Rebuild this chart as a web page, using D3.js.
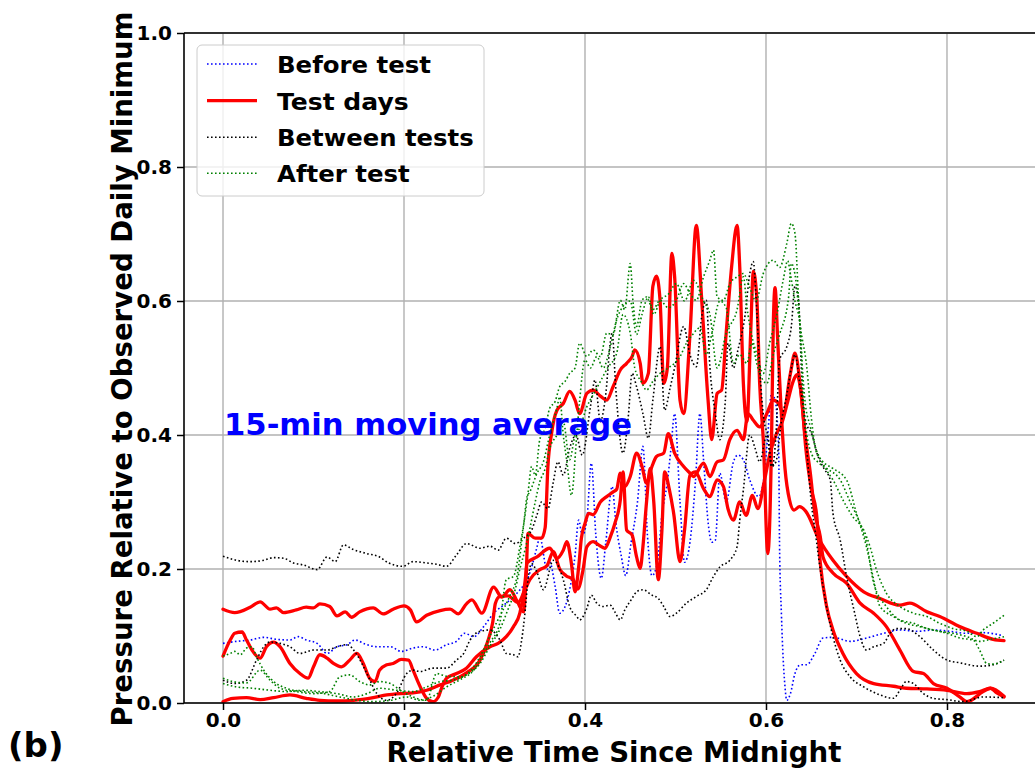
<!DOCTYPE html>
<html>
<head>
<meta charset="utf-8">
<script src="https://cdn.jsdelivr.net/npm/d3@7"></script>
<style>
  body { margin: 0; background: #ffffff; }
  svg { display: block; }
  text { font-family: "DejaVu Sans", "Liberation Sans", sans-serif; font-weight: bold; }
</style>
</head>
<body>
<svg id="chart" width="1035" height="770"></svg>
<script>
// Axis ticks
const xTicks = [0, 0.2, 0.4, 0.6, 0.8];
const yTicks = [0, 0.2, 0.4, 0.6, 0.8, 1.0];

// Pressure relative to daily minimum, 15-min moving average: [relative time, pressure]
const beforeTest1 = [[0.000,0.089],[0.015,0.092],[0.030,0.094],[0.045,0.098],[0.059,0.095],[0.074,0.094],[0.083,0.099],[0.092,0.094],[0.104,0.089],[0.115,0.074],[0.126,0.084],[0.137,0.087],[0.146,0.094],[0.157,0.088],[0.170,0.084],[0.185,0.084],[0.197,0.077],[0.210,0.082],[0.221,0.084],[0.234,0.079],[0.247,0.087],[0.258,0.092],[0.267,0.104],[0.277,0.099],[0.288,0.114],[0.299,0.134],[0.313,0.149],[0.325,0.164],[0.339,0.194],[0.347,0.233],[0.350,0.248],[0.358,0.199],[0.361,0.210],[0.367,0.174],[0.372,0.134],[0.378,0.144],[0.383,0.169],[0.389,0.220],[0.393,0.273],[0.397,0.250],[0.402,0.273],[0.407,0.358],[0.412,0.250],[0.418,0.186],[0.423,0.240],[0.430,0.323],[0.434,0.270],[0.440,0.220],[0.445,0.190],[0.451,0.240],[0.458,0.300],[0.464,0.383],[0.469,0.250],[0.474,0.190],[0.480,0.210],[0.485,0.280],[0.491,0.330],[0.495,0.380],[0.499,0.432],[0.505,0.300],[0.510,0.210],[0.516,0.240],[0.522,0.330],[0.527,0.432],[0.531,0.363],[0.536,0.270],[0.540,0.240],[0.544,0.243],[0.549,0.343],[0.556,0.300],[0.564,0.360],[0.569,0.370],[0.575,0.363],[0.582,0.333],[0.592,0.308],[0.597,0.330],[0.602,0.400],[0.606,0.462],[0.610,0.452],[0.614,0.378],[0.615,0.233],[0.617,0.134],[0.621,0.024],[0.623,0.004],[0.627,0.014],[0.632,0.044],[0.638,0.057],[0.645,0.057],[0.654,0.074],[0.663,0.097],[0.674,0.098],[0.693,0.092],[0.711,0.097],[0.730,0.104],[0.748,0.109],[0.767,0.107],[0.785,0.109],[0.803,0.107],[0.822,0.104],[0.840,0.105],[0.860,0.101]];

const testDay1 = [[0.000,0.140],[0.013,0.135],[0.030,0.143],[0.041,0.151],[0.052,0.140],[0.059,0.142],[0.067,0.135],[0.081,0.139],[0.092,0.143],[0.100,0.142],[0.107,0.148],[0.118,0.144],[0.126,0.130],[0.135,0.136],[0.142,0.128],[0.151,0.136],[0.166,0.142],[0.177,0.133],[0.188,0.140],[0.200,0.145],[0.207,0.139],[0.214,0.121],[0.225,0.131],[0.240,0.138],[0.251,0.140],[0.260,0.133],[0.269,0.148],[0.275,0.154],[0.286,0.134],[0.299,0.173],[0.308,0.158],[0.317,0.169],[0.325,0.152],[0.332,0.136],[0.335,0.190],[0.337,0.253],[0.345,0.246],[0.352,0.246],[0.356,0.262],[0.359,0.353],[0.363,0.402],[0.369,0.437],[0.376,0.447],[0.383,0.465],[0.389,0.452],[0.394,0.432],[0.402,0.462],[0.409,0.467],[0.417,0.458],[0.424,0.452],[0.431,0.472],[0.439,0.497],[0.446,0.507],[0.452,0.517],[0.455,0.527],[0.461,0.507],[0.464,0.477],[0.470,0.492],[0.475,0.622],[0.479,0.637],[0.483,0.600],[0.487,0.477],[0.491,0.500],[0.496,0.671],[0.499,0.637],[0.505,0.452],[0.509,0.432],[0.516,0.550],[0.523,0.713],[0.529,0.601],[0.536,0.452],[0.540,0.393],[0.546,0.462],[0.551,0.467],[0.556,0.552],[0.562,0.651],[0.568,0.713],[0.571,0.651],[0.575,0.477],[0.579,0.420],[0.583,0.550],[0.586,0.644],[0.590,0.601],[0.593,0.477],[0.597,0.393],[0.602,0.223],[0.606,0.380],[0.608,0.560],[0.610,0.620],[0.613,0.540],[0.617,0.430],[0.621,0.350],[0.626,0.303],[0.631,0.288],[0.637,0.293],[0.644,0.286],[0.658,0.246],[0.674,0.213],[0.689,0.189],[0.708,0.166],[0.726,0.156],[0.748,0.146],[0.759,0.149],[0.778,0.136],[0.792,0.129],[0.814,0.114],[0.833,0.104],[0.851,0.095],[0.863,0.093]];

const testDay2 = [[0.000,0.070],[0.008,0.094],[0.013,0.104],[0.021,0.106],[0.026,0.094],[0.032,0.079],[0.041,0.067],[0.048,0.084],[0.056,0.091],[0.063,0.084],[0.074,0.059],[0.085,0.044],[0.094,0.037],[0.100,0.054],[0.107,0.072],[0.115,0.067],[0.122,0.059],[0.131,0.054],[0.140,0.064],[0.148,0.074],[0.155,0.059],[0.162,0.037],[0.168,0.032],[0.173,0.049],[0.181,0.057],[0.188,0.059],[0.197,0.065],[0.205,0.064],[0.210,0.049],[0.218,0.024],[0.225,0.007],[0.232,0.002],[0.238,0.009],[0.242,0.024],[0.247,0.037],[0.258,0.044],[0.269,0.052],[0.280,0.069],[0.295,0.084],[0.304,0.089],[0.313,0.099],[0.321,0.114],[0.328,0.134],[0.334,0.184],[0.336,0.209],[0.347,0.218],[0.361,0.231],[0.369,0.216],[0.376,0.228],[0.380,0.241],[0.385,0.208],[0.389,0.166],[0.393,0.203],[0.396,0.246],[0.400,0.268],[0.404,0.283],[0.409,0.281],[0.417,0.300],[0.424,0.308],[0.431,0.315],[0.435,0.319],[0.439,0.343],[0.444,0.323],[0.450,0.338],[0.457,0.373],[0.463,0.353],[0.468,0.328],[0.474,0.353],[0.479,0.368],[0.487,0.373],[0.492,0.402],[0.499,0.373],[0.509,0.353],[0.516,0.343],[0.520,0.338],[0.531,0.358],[0.538,0.338],[0.546,0.360],[0.553,0.363],[0.560,0.393],[0.568,0.407],[0.575,0.393],[0.580,0.432],[0.586,0.422],[0.593,0.412],[0.601,0.432],[0.608,0.452],[0.614,0.447],[0.619,0.432],[0.627,0.492],[0.632,0.522],[0.638,0.472],[0.643,0.402],[0.649,0.343],[0.654,0.283],[0.660,0.248],[0.663,0.218],[0.674,0.194],[0.689,0.179],[0.704,0.149],[0.719,0.134],[0.733,0.114],[0.748,0.079],[0.763,0.047],[0.774,0.044],[0.785,0.029],[0.800,0.022],[0.814,0.009],[0.822,0.002],[0.840,0.017],[0.848,0.022],[0.855,0.015],[0.863,0.009]];

const testDay3 = [[0.000,0.002],[0.011,0.007],[0.026,0.008],[0.041,0.005],[0.056,0.008],[0.074,0.012],[0.092,0.007],[0.107,0.004],[0.126,0.003],[0.144,0.004],[0.166,0.008],[0.181,0.012],[0.196,0.014],[0.210,0.015],[0.225,0.019],[0.240,0.027],[0.254,0.034],[0.269,0.045],[0.284,0.064],[0.292,0.090],[0.298,0.120],[0.301,0.149],[0.306,0.159],[0.315,0.160],[0.326,0.150],[0.334,0.170],[0.339,0.184],[0.350,0.199],[0.358,0.205],[0.365,0.226],[0.372,0.200],[0.379,0.190],[0.387,0.184],[0.392,0.170],[0.398,0.200],[0.402,0.233],[0.409,0.241],[0.415,0.236],[0.422,0.231],[0.428,0.248],[0.433,0.268],[0.439,0.303],[0.442,0.345],[0.446,0.258],[0.452,0.251],[0.457,0.218],[0.461,0.201],[0.464,0.233],[0.468,0.300],[0.472,0.350],[0.476,0.300],[0.481,0.184],[0.485,0.258],[0.488,0.345],[0.493,0.320],[0.498,0.283],[0.505,0.211],[0.510,0.258],[0.516,0.340],[0.522,0.345],[0.531,0.320],[0.538,0.308],[0.546,0.333],[0.553,0.323],[0.558,0.290],[0.564,0.273],[0.571,0.300],[0.578,0.280],[0.585,0.310],[0.591,0.290],[0.598,0.330],[0.604,0.370],[0.611,0.400],[0.618,0.420],[0.624,0.450],[0.630,0.480],[0.634,0.490],[0.639,0.460],[0.644,0.380],[0.650,0.320],[0.656,0.280],[0.660,0.209],[0.667,0.144],[0.674,0.109],[0.685,0.074],[0.700,0.044],[0.719,0.029],[0.741,0.025],[0.755,0.022],[0.778,0.021],[0.800,0.019],[0.822,0.014],[0.836,0.017],[0.848,0.022],[0.863,0.010]];

const betweenTests1 = [[0.000,0.219],[0.015,0.213],[0.030,0.211],[0.045,0.213],[0.056,0.217],[0.067,0.216],[0.078,0.209],[0.089,0.206],[0.104,0.199],[0.115,0.218],[0.124,0.211],[0.133,0.236],[0.144,0.229],[0.159,0.223],[0.173,0.218],[0.183,0.209],[0.199,0.204],[0.210,0.211],[0.225,0.209],[0.236,0.207],[0.247,0.204],[0.258,0.221],[0.269,0.238],[0.284,0.231],[0.295,0.234],[0.304,0.228],[0.313,0.246],[0.323,0.238],[0.332,0.246],[0.341,0.258],[0.347,0.281],[0.352,0.300],[0.359,0.290],[0.365,0.330],[0.370,0.360],[0.376,0.340],[0.383,0.380],[0.390,0.400],[0.397,0.370],[0.406,0.442],[0.411,0.482],[0.417,0.420],[0.422,0.450],[0.430,0.552],[0.434,0.470],[0.442,0.373],[0.448,0.430],[0.452,0.492],[0.457,0.472],[0.464,0.432],[0.470,0.395],[0.475,0.452],[0.483,0.532],[0.488,0.437],[0.494,0.470],[0.499,0.500],[0.509,0.562],[0.516,0.520],[0.523,0.502],[0.529,0.577],[0.534,0.601],[0.538,0.502],[0.544,0.432],[0.549,0.393],[0.555,0.450],[0.558,0.537],[0.564,0.500],[0.569,0.527],[0.577,0.580],[0.582,0.640],[0.586,0.659],[0.589,0.606],[0.593,0.500],[0.598,0.420],[0.602,0.400],[0.607,0.353],[0.611,0.400],[0.615,0.512],[0.623,0.532],[0.628,0.562],[0.632,0.622],[0.636,0.601],[0.639,0.502],[0.645,0.380],[0.650,0.300],[0.655,0.250],[0.658,0.218],[0.663,0.174],[0.669,0.129],[0.674,0.099],[0.682,0.064],[0.693,0.039],[0.708,0.024],[0.726,0.012],[0.741,0.007],[0.748,0.019],[0.755,0.032],[0.763,0.029],[0.774,0.014],[0.785,0.007],[0.800,0.005],[0.818,0.002],[0.840,0.009],[0.863,0.008]];

const betweenTests2 = [[0.000,0.034],[0.013,0.029],[0.026,0.034],[0.037,0.064],[0.045,0.084],[0.052,0.091],[0.063,0.089],[0.074,0.084],[0.085,0.074],[0.100,0.079],[0.115,0.079],[0.126,0.084],[0.137,0.087],[0.148,0.072],[0.159,0.044],[0.170,0.014],[0.181,0.004],[0.192,0.015],[0.203,0.044],[0.210,0.049],[0.218,0.047],[0.232,0.052],[0.247,0.052],[0.258,0.064],[0.266,0.074],[0.273,0.094],[0.282,0.106],[0.295,0.109],[0.306,0.094],[0.313,0.074],[0.321,0.072],[0.326,0.069],[0.330,0.094],[0.334,0.139],[0.337,0.184],[0.341,0.208],[0.347,0.195],[0.354,0.169],[0.365,0.213],[0.376,0.184],[0.383,0.144],[0.391,0.129],[0.394,0.124],[0.402,0.141],[0.407,0.161],[0.413,0.149],[0.420,0.144],[0.428,0.146],[0.433,0.136],[0.439,0.124],[0.444,0.139],[0.452,0.156],[0.457,0.166],[0.464,0.169],[0.474,0.161],[0.481,0.156],[0.487,0.144],[0.494,0.129],[0.501,0.134],[0.512,0.149],[0.523,0.159],[0.534,0.169],[0.542,0.189],[0.549,0.203],[0.560,0.213],[0.568,0.233],[0.571,0.273],[0.575,0.318],[0.582,0.400],[0.588,0.380],[0.593,0.360],[0.601,0.400],[0.606,0.353],[0.611,0.360],[0.617,0.420],[0.623,0.460],[0.628,0.500],[0.632,0.520],[0.638,0.470],[0.644,0.420],[0.651,0.400],[0.657,0.370],[0.664,0.350],[0.671,0.333],[0.674,0.283],[0.682,0.243],[0.689,0.189],[0.698,0.134],[0.704,0.099],[0.711,0.079],[0.719,0.084],[0.730,0.089],[0.737,0.104],[0.744,0.111],[0.755,0.111],[0.770,0.099],[0.785,0.079],[0.800,0.064],[0.814,0.060],[0.836,0.055],[0.851,0.057],[0.863,0.064]];

const afterTest1 = [[0.000,0.070],[0.008,0.074],[0.013,0.077],[0.019,0.072],[0.026,0.082],[0.032,0.084],[0.037,0.069],[0.045,0.049],[0.056,0.032],[0.070,0.022],[0.089,0.017],[0.107,0.015],[0.129,0.009],[0.148,0.004],[0.166,0.002],[0.185,0.004],[0.203,0.009],[0.218,0.004],[0.232,0.010],[0.247,0.024],[0.262,0.035],[0.277,0.049],[0.284,0.064],[0.295,0.090],[0.306,0.120],[0.313,0.184],[0.321,0.189],[0.328,0.233],[0.334,0.283],[0.337,0.313],[0.341,0.353],[0.345,0.340],[0.350,0.393],[0.356,0.410],[0.361,0.440],[0.367,0.450],[0.372,0.472],[0.378,0.480],[0.383,0.492],[0.389,0.500],[0.394,0.537],[0.402,0.517],[0.409,0.527],[0.417,0.517],[0.424,0.552],[0.431,0.550],[0.439,0.601],[0.444,0.587],[0.450,0.656],[0.453,0.600],[0.457,0.562],[0.463,0.601],[0.468,0.606],[0.475,0.587],[0.483,0.601],[0.492,0.590],[0.501,0.601],[0.509,0.626],[0.516,0.611],[0.523,0.601],[0.531,0.636],[0.538,0.661],[0.542,0.676],[0.546,0.606],[0.553,0.601],[0.560,0.626],[0.568,0.636],[0.575,0.641],[0.582,0.620],[0.589,0.600],[0.597,0.641],[0.608,0.661],[0.615,0.650],[0.623,0.686],[0.628,0.716],[0.632,0.701],[0.636,0.601],[0.639,0.527],[0.643,0.452],[0.649,0.412],[0.655,0.380],[0.662,0.360],[0.668,0.345],[0.674,0.333],[0.685,0.303],[0.696,0.278],[0.708,0.258],[0.715,0.233],[0.722,0.199],[0.733,0.164],[0.748,0.144],[0.763,0.134],[0.778,0.129],[0.792,0.119],[0.807,0.111],[0.822,0.107],[0.833,0.099],[0.840,0.109],[0.851,0.119],[0.863,0.131]];

const afterTest2 = [[0.000,0.037],[0.011,0.032],[0.026,0.030],[0.041,0.049],[0.052,0.034],[0.063,0.022],[0.081,0.017],[0.100,0.014],[0.118,0.017],[0.129,0.039],[0.140,0.042],[0.151,0.032],[0.162,0.027],[0.173,0.032],[0.185,0.029],[0.196,0.019],[0.210,0.009],[0.225,0.004],[0.236,0.044],[0.247,0.040],[0.262,0.039],[0.277,0.054],[0.284,0.069],[0.295,0.100],[0.306,0.130],[0.317,0.160],[0.325,0.190],[0.332,0.263],[0.336,0.308],[0.339,0.315],[0.347,0.343],[0.354,0.360],[0.361,0.400],[0.369,0.440],[0.372,0.457],[0.376,0.400],[0.380,0.360],[0.385,0.310],[0.391,0.402],[0.394,0.450],[0.400,0.512],[0.406,0.500],[0.413,0.517],[0.420,0.500],[0.428,0.532],[0.435,0.572],[0.442,0.592],[0.450,0.600],[0.457,0.550],[0.463,0.580],[0.470,0.606],[0.476,0.580],[0.483,0.601],[0.492,0.610],[0.501,0.626],[0.510,0.600],[0.520,0.631],[0.531,0.600],[0.538,0.580],[0.546,0.500],[0.556,0.552],[0.568,0.587],[0.575,0.636],[0.579,0.590],[0.584,0.550],[0.590,0.520],[0.597,0.492],[0.604,0.537],[0.612,0.580],[0.619,0.631],[0.624,0.660],[0.627,0.640],[0.632,0.600],[0.638,0.562],[0.641,0.452],[0.645,0.402],[0.651,0.370],[0.657,0.360],[0.667,0.350],[0.682,0.333],[0.693,0.300],[0.704,0.268],[0.711,0.240],[0.719,0.179],[0.733,0.144],[0.748,0.124],[0.763,0.119],[0.778,0.111],[0.792,0.107],[0.807,0.104],[0.822,0.099],[0.836,0.092],[0.848,0.095],[0.863,0.099]];

const afterTest3 = [[0.000,0.029],[0.015,0.024],[0.033,0.022],[0.052,0.019],[0.070,0.017],[0.089,0.019],[0.107,0.017],[0.126,0.014],[0.144,0.009],[0.159,0.014],[0.173,0.022],[0.192,0.019],[0.210,0.017],[0.225,0.024],[0.240,0.032],[0.254,0.034],[0.269,0.042],[0.284,0.059],[0.295,0.085],[0.306,0.110],[0.315,0.140],[0.323,0.170],[0.328,0.200],[0.334,0.230],[0.339,0.260],[0.345,0.300],[0.350,0.330],[0.356,0.350],[0.361,0.380],[0.369,0.400],[0.376,0.420],[0.383,0.363],[0.389,0.400],[0.394,0.410],[0.402,0.442],[0.409,0.460],[0.417,0.480],[0.425,0.500],[0.435,0.522],[0.442,0.580],[0.450,0.552],[0.455,0.500],[0.462,0.480],[0.468,0.467],[0.475,0.480],[0.483,0.492],[0.492,0.500],[0.505,0.517],[0.512,0.537],[0.519,0.550],[0.527,0.560],[0.534,0.520],[0.540,0.550],[0.549,0.600],[0.556,0.590],[0.564,0.507],[0.571,0.520],[0.579,0.507],[0.584,0.537],[0.591,0.500],[0.601,0.477],[0.608,0.520],[0.615,0.550],[0.625,0.606],[0.628,0.656],[0.632,0.640],[0.638,0.562],[0.645,0.502],[0.650,0.427],[0.656,0.373],[0.663,0.360],[0.674,0.350],[0.689,0.333],[0.700,0.283],[0.711,0.233],[0.718,0.190],[0.726,0.144],[0.741,0.129],[0.755,0.119],[0.770,0.114],[0.785,0.109],[0.800,0.104],[0.814,0.097],[0.829,0.094],[0.836,0.079],[0.844,0.059],[0.851,0.058],[0.863,0.064]];

// Groups in plotting / legend order
const groups = [
  { label: "Before test",   color: "#0000ff", dotted: true,  runs: [beforeTest1] },
  { label: "Test days",     color: "#ff0000", dotted: false, runs: [testDay1, testDay2, testDay3] },
  { label: "Between tests", color: "#000000", dotted: true,  runs: [betweenTests1, betweenTests2] },
  { label: "After test",    color: "#008000", dotted: true,  runs: [afterTest1, afterTest2, afterTest3] }
];

const svg = d3.select("#chart");
const plot = { left: 184, top: 33, right: 1045, bottom: 703 };

const x = d3.scaleLinear().domain([-0.0431, 0.9083]).range([plot.left, plot.right]);
const y = d3.scaleLinear().domain([0, 1]).range([plot.bottom, plot.top]);

svg.append("rect").attr("width", 1035).attr("height", 770).attr("fill", "#ffffff");

svg.append("defs").append("clipPath").attr("id", "plotClip")
  .append("rect")
  .attr("x", plot.left).attr("y", plot.top)
  .attr("width", plot.right - plot.left).attr("height", plot.bottom - plot.top);

// Grid
const grid = svg.append("g").attr("stroke", "#b0b0b0").attr("stroke-width", 1.4);
grid.selectAll("line.gx").data(xTicks).join("line")
  .attr("x1", d => x(d)).attr("x2", d => x(d))
  .attr("y1", plot.top).attr("y2", plot.bottom);
grid.selectAll("line.gy").data(yTicks).join("line")
  .attr("x1", plot.left).attr("x2", plot.right)
  .attr("y1", d => y(d)).attr("y2", d => y(d));

// Series
const line = d3.line()
  .x(d => x(d[0]))
  .y(d => y(d[1]))
  .curve(d3.curveMonotoneX);

const linesG = svg.append("g").attr("clip-path", "url(#plotClip)");
groups.forEach(g => {
  g.runs.forEach(run => {
    linesG.append("path")
      .datum(run)
      .attr("d", line)
      .attr("fill", "none")
      .attr("stroke", g.color)
      .attr("stroke-width", g.dotted ? 1.6 : 3.3)
      .attr("stroke-dasharray", g.dotted ? "1.6,2.4" : null)
      .attr("stroke-linejoin", "round")
      .attr("stroke-linecap", g.dotted ? "butt" : "round");
  });
});

// Axes
const fmt = d3.format(".1f");
const xAxis = svg.append("g")
  .attr("transform", `translate(0,${plot.bottom})`)
  .call(d3.axisBottom(x).tickValues(xTicks).tickFormat(fmt).tickSize(7).tickPadding(3));
const yAxis = svg.append("g")
  .attr("transform", `translate(${plot.left},0)`)
  .call(d3.axisLeft(y).tickValues(yTicks).tickFormat(fmt).tickSize(7).tickPadding(5));
[xAxis, yAxis].forEach(a => {
  a.select(".domain").remove();
  a.selectAll(".tick line").attr("stroke", "#000").attr("stroke-width", 1.5);
  a.selectAll(".tick text")
    .attr("fill", "#000")
    .style("font-size", "20px")
    .style("font-weight", "bold")
    .style("font-family", "'DejaVu Sans', sans-serif");
});

// Spines
const spines = svg.append("g").attr("stroke", "#000").attr("stroke-width", 1.6).attr("fill", "none");
spines.append("line").attr("x1", plot.left).attr("x2", plot.left).attr("y1", plot.top).attr("y2", plot.bottom);
spines.append("line").attr("x1", plot.left).attr("x2", plot.right).attr("y1", plot.bottom).attr("y2", plot.bottom);
spines.append("line").attr("x1", plot.left).attr("x2", plot.right).attr("y1", plot.top).attr("y2", plot.top);
spines.append("line").attr("x1", plot.right).attr("x2", plot.right).attr("y1", plot.top).attr("y2", plot.bottom);

// Axis titles
svg.append("text")
  .attr("x", 614).attr("y", 762)
  .attr("text-anchor", "middle")
  .attr("textLength", 455).attr("lengthAdjust", "spacingAndGlyphs")
  .style("font-size", "27.5px")
  .text("Relative Time Since Midnight");

svg.append("text")
  .attr("transform", "translate(132,369) rotate(-90)")
  .attr("text-anchor", "middle")
  .style("font-size", "27.6px")
  .text("Pressure Relative to Observed Daily Minimum");

// Panel tag
svg.append("text")
  .attr("x", 8).attr("y", 757)
  .style("font-size", "34px")
  .text("(b)");

// Annotation
svg.append("text")
  .attr("x", 224).attr("y", 435)
  .attr("fill", "#0000ff")
  .attr("textLength", 408).attr("lengthAdjust", "spacingAndGlyphs")
  .style("font-size", "30px")
  .text("15-min moving average");

// Legend
const legend = svg.append("g");
legend.append("rect")
  .attr("x", 197).attr("y", 45).attr("width", 287).attr("height", 151)
  .attr("rx", 5).attr("ry", 5)
  .attr("fill", "#ffffff").attr("fill-opacity", 0.8)
  .attr("stroke", "#cccccc").attr("stroke-width", 1);

const rowY = [64, 100.7, 137.3, 173.3];
const labelWidths = [154, 131.7, 196.7, 132.7];
groups.forEach((g, i) => {
  legend.append("line")
    .attr("x1", 207).attr("x2", 257)
    .attr("y1", rowY[i]).attr("y2", rowY[i])
    .attr("stroke", g.color)
    .attr("stroke-width", g.dotted ? 1.6 : 3.3)
    .attr("stroke-dasharray", g.dotted ? "1.6,2.4" : null);
  legend.append("text")
    .attr("x", 277).attr("y", rowY[i] + 9)
    .attr("textLength", labelWidths[i]).attr("lengthAdjust", "spacingAndGlyphs")
    .style("font-size", "23.5px")
    .text(g.label);
});
</script>
</body>
</html>
